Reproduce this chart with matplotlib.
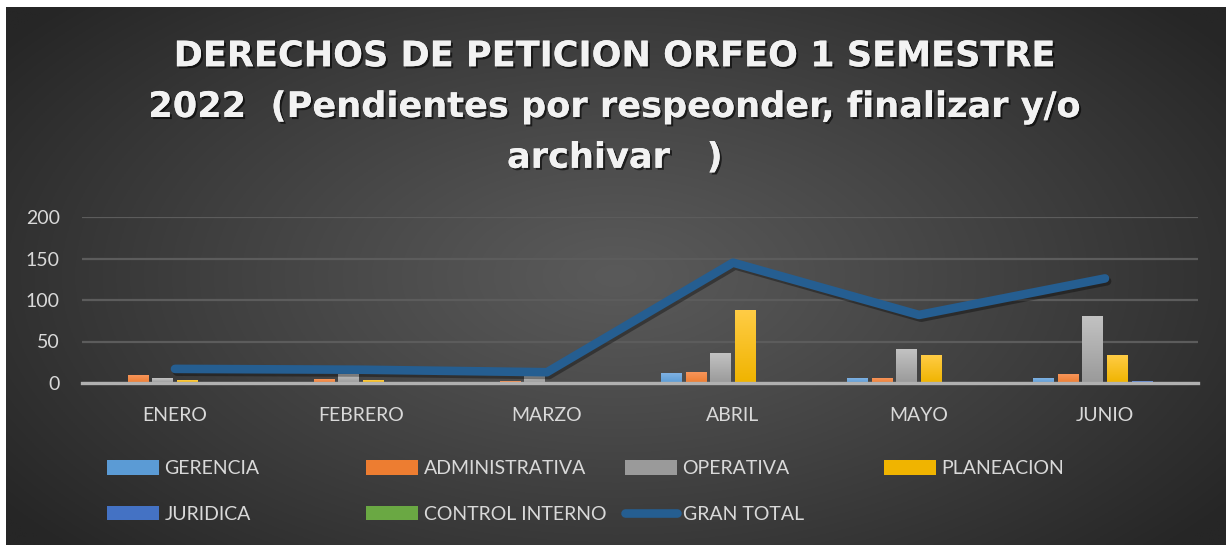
import numpy as np
import matplotlib
matplotlib.use("Agg")
import matplotlib.pyplot as plt
import matplotlib.patheffects as pe
from matplotlib.colors import LinearSegmentedColormap
from matplotlib.lines import Line2D
from matplotlib.patches import Patch

# ---------------- data ----------------
months = ["ENERO", "FEBRERO", "MARZO", "ABRIL", "MAYO", "JUNIO"]
gerencia = [0, 0, 0, 11, 6, 5]
administrativa = [9, 4, 2, 13, 5, 10]
operativa = [5, 10, 9, 36, 40, 80]
planeacion = [3, 3, 0, 87, 33, 33]
juridica = [0, 0, 0, 0, 1, 2]
control_interno = [0, 1, 0, 0, 0, 0]
gran_total = [17, 16, 13, 145, 82, 126]
yticks = [0, 50, 100, 150, 200]
title = "DERECHOS DE PETICION ORFEO 1 SEMESTRE\n2022  (Pendientes por respeonder, finalizar y/o\narchivar   )"

series = [
    ("GERENCIA", gerencia, "#5b9bd5", "#7fb2e3"),
    ("ADMINISTRATIVA", administrativa, "#ed7d31", "#f7955a"),
    ("OPERATIVA", operativa, "#9a9a9a", "#c2c2c2"),
    ("PLANEACION", planeacion, "#f0b400", "#ffcc45"),
    ("JURIDICA", juridica, "#4472c4", "#6a90d8"),
    ("CONTROL INTERNO", control_interno, "#6aa843", "#8cc56a"),
]
line_color = "#255e91"
text_color = "#d9d9d9"
FONT = "Lato"

W, H = 1226, 545
fig = plt.figure(figsize=(W / 100, H / 100), dpi=100, facecolor="white")

# background with radial gradient
bg = fig.add_axes([6 / W, 0, 1 - 6 / W, 1 - 7 / H], zorder=-10)
yy, xx = np.mgrid[0:1:300j, 0:1:600j]
r = np.sqrt(((xx - 0.5) / 0.62) ** 2 + ((yy - 0.5) / 0.75) ** 2)
r = np.clip(r, 0, 1)
c_in, c_out = 0x5a / 255, 0x26 / 255
val = c_in + (c_out - c_in) * r ** 1.1
bg.imshow(np.dstack([val, val, val]), aspect="auto", extent=(0, 1, 0, 1))
bg.axis("off")

# title
fig.text(615 / W, 1 - 107 / H, title, ha="center", va="center",
         fontsize=25.3, fontweight="bold", family="DejaVu Sans", color="#f2f2f2",
         linespacing=1.62,
         path_effects=[pe.withSimplePatchShadow(offset=(1.5, -1.5), shadow_rgbFace="black", alpha=0.6), pe.Normal()])

# plot area
ax = fig.add_axes([82 / W, 1 - 383 / H, (1198 - 82) / W, (383 - 217) / H])
ax.set_facecolor("none")
x = np.arange(len(months))
n = len(series)
step = 0.133
width = 0.111
handles = []
for i, (name, vals, col, light) in enumerate(series):
    offs = (i - (n - 1) / 2) * step
    bars = ax.bar(x + offs, vals, width, color=col, label=name, zorder=3)
    cmap = LinearSegmentedColormap.from_list(name, [col, light])
    grad = np.linspace(0, 1, 64).reshape(-1, 1)
    for rect in bars:
        h = rect.get_height()
        if h <= 0:
            continue
        x0 = rect.get_x()
        ax.imshow(grad, extent=(x0, x0 + rect.get_width(), 0, h), origin="lower",
                  cmap=cmap, aspect="auto", zorder=3.1)
    handles.append(Patch(facecolor=col, edgecolor="none", label=name))

ax.plot(x, gran_total, color=line_color, lw=6.2, solid_capstyle="round",
        solid_joinstyle="round", zorder=5,
        path_effects=[pe.SimpleLineShadow(offset=(1.5, -2), shadow_color="black", alpha=0.35), pe.Normal()])
handles.append(Line2D([0], [0], color=line_color, lw=6.2, solid_capstyle="round", label="GRAN TOTAL"))

ax.set_xlim(-0.5, len(months) - 0.5)
ax.set_ylim(0, 200)
ax.set_yticks(yticks)
ax.set_xticks(x)
ax.set_xticklabels(months)
ax.grid(axis="y", color="#5c5c5c", lw=1.6, zorder=0)
ax.set_axisbelow(True)
for s in ["top", "right", "left"]:
    ax.spines[s].set_visible(False)
ax.spines["bottom"].set_color("#b0b0b0")
ax.spines["bottom"].set_linewidth(2.4)
ax.spines["bottom"].set_zorder(4)
ax.tick_params(axis="both", length=0, colors=text_color, labelsize=14)
ax.tick_params(axis="x", pad=17)
ax.tick_params(axis="y", pad=16)
for lab in ax.get_xticklabels() + ax.get_yticklabels():
    lab.set_family(FONT)

# legend: four columns placed at Excel's equal column pitch
cols = [[0, 4], [1, 5], [2, 6], [3]]
col_x = [107, 366, 625, 884]
for ci, idxs in enumerate(cols):
    leg = fig.legend(handles=[handles[k] for k in idxs], loc="upper left",
                     bbox_to_anchor=(col_x[ci] / W, 1 - 460 / H),
                     frameon=False, ncol=1, borderpad=0, borderaxespad=0,
                     handlelength=2.68, handleheight=0.78, handletextpad=0.28,
                     labelspacing=1.47, prop={"family": FONT, "size": 14})
    for t in leg.get_texts():
        t.set_color(text_color)

fig.savefig("out.png", dpi=100, facecolor="white")
